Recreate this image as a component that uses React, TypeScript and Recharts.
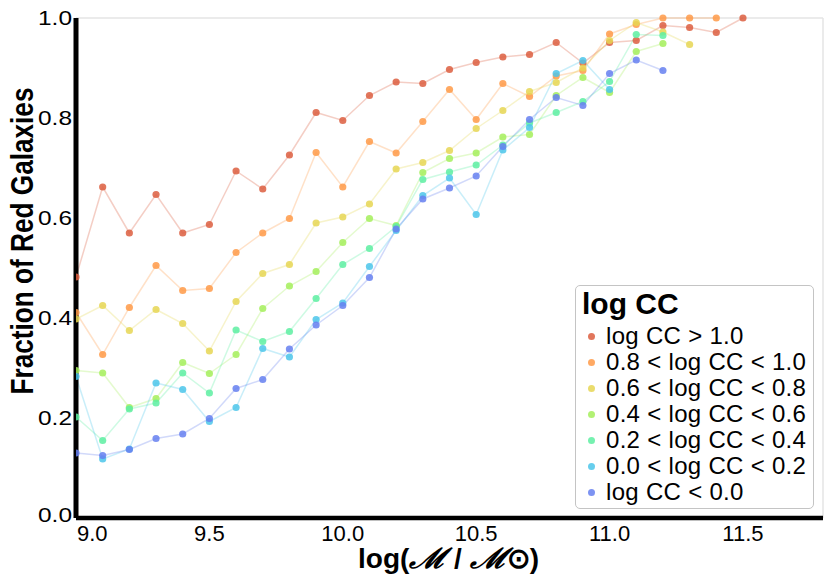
import React from 'react';
import { LineChart, Line, XAxis, YAxis, ReferenceLine, Legend } from 'recharts';

const massBins = [9.0, 9.1, 9.2, 9.3, 9.4, 9.5, 9.6, 9.7, 9.8, 9.9, 10.0, 10.1, 10.2, 10.3, 10.4, 10.5, 10.6, 10.7, 10.8, 10.9, 11.0, 11.1, 11.2, 11.3, 11.4, 11.5];

const ccAbove10 = [0.482, 0.662, 0.570, 0.647, 0.570, 0.587, 0.694, 0.658, 0.726, 0.811, 0.795, 0.845, 0.872, 0.869, 0.897, 0.911, 0.922, 0.927, 0.951, 0.910, 0.951, 0.955, 0.985, 0.981, 0.971, 1.0];
const cc08to10 = [0.411, 0.327, 0.421, 0.505, 0.455, 0.459, 0.531, 0.570, 0.599, 0.731, 0.662, 0.753, 0.730, 0.793, 0.857, 0.797, 0.869, 0.843, 0.884, 0.895, 0.968, 0.987, 1.0, 1.0, 1.0];
const cc06to08 = [0.398, 0.425, 0.375, 0.417, 0.389, 0.334, 0.433, 0.489, 0.507, 0.590, 0.602, 0.628, 0.698, 0.711, 0.735, 0.779, 0.815, 0.853, 0.871, 0.900, 0.955, 0.991, 0.972, 0.947];
const cc04to06 = [0.295, 0.290, 0.221, 0.239, 0.311, 0.289, 0.327, 0.419, 0.464, 0.493, 0.551, 0.599, 0.585, 0.691, 0.719, 0.730, 0.762, 0.767, 0.845, 0.881, 0.851, 0.933, 0.949];
const cc02to04 = [0.202, 0.155, 0.218, 0.230, 0.290, 0.250, 0.376, 0.353, 0.373, 0.439, 0.507, 0.539, 0.583, 0.677, 0.692, 0.706, 0.746, 0.790, 0.811, 0.833, 0.873, 0.967, 0.965];
const cc00to02 = [0.283, 0.118, 0.138, 0.270, 0.257, 0.193, 0.221, 0.339, 0.322, 0.397, 0.430, 0.503, 0.575, 0.645, 0.680, 0.607, 0.736, 0.781, 0.889, 0.915, 0.857];
const ccBelow00 = [0.130, 0.125, 0.137, 0.159, 0.168, 0.199, 0.259, 0.277, 0.338, 0.386, 0.425, 0.481, 0.578, 0.638, 0.660, 0.684, 0.743, 0.797, 0.841, 0.825, 0.889, 0.916, 0.895];

const seriesValues = [ccAbove10, cc08to10, cc06to08, cc04to06, cc02to04, cc00to02, ccBelow00];
const seriesLabels = [
  'log CC > 1.0',
  '0.8 < log CC < 1.0',
  '0.6 < log CC < 0.8',
  '0.4 < log CC < 0.6',
  '0.2 < log CC < 0.4',
  '0.0 < log CC < 0.2',
  'log CC < 0.0',
];
const seriesColors = ['#dc5e40', '#ff9a48', '#e6d654', '#a4ee5c', '#5eeea2', '#4cc6ea', '#6680f0'];

const xTicks = [9.0, 9.5, 10.0, 10.5, 11.0, 11.5];
const yTicks = [0.0, 0.2, 0.4, 0.6, 0.8, 1.0];

const data = massBins.map((x, i) => {
  const row: Record<string, number | null> = { x };
  seriesValues.forEach((arr, k) => {
    row['s' + k] = arr[i] ?? null;
  });
  return row;
});

const FONT = '"Liberation Sans", Arial, Helvetica, sans-serif';

const XTick = (props: any) => {
  const { x, y, payload } = props;
  const first = payload.value === xTicks[0];
  return (
    <text x={first ? x + 1 : x} y={y} dy="0.71em" textAnchor={first ? 'start' : 'middle'} fontSize={22} fill="#000" fontFamily={FONT}>
      {Number(payload.value).toFixed(1)}
    </text>
  );
};

const YTick = (props: any) => {
  const { x, y, payload } = props;
  const shift = payload.value === 0 ? -3 : 0;
  return (
    <text
      x={x}
      y={y + shift}
      dy="0.355em"
      textAnchor="end"
      fontSize={21}
      fill="#000"
      fontFamily={FONT}
      textLength={34}
      lengthAdjust="spacingAndGlyphs"
    >
      {Number(payload.value).toFixed(1)}
    </text>
  );
};

const XLabel = () => (
  <text x={358} y={568} textAnchor="start" fontSize={28} fontWeight="bold" fill="#000" fontFamily={FONT}>
    <tspan>log(</tspan>
    <tspan fontStyle="italic" textLength={37} lengthAdjust="spacingAndGlyphs">ℳ</tspan>
    <tspan> / </tspan>
    <tspan fontStyle="italic" textLength={37} lengthAdjust="spacingAndGlyphs">ℳ</tspan>
    <tspan>⊙)</tspan>
  </text>
);

const YLabel = () => (
  <text
    x={0}
    y={0}
    transform="translate(33,241) rotate(-90)"
    textAnchor="middle"
    fontSize={31}
    fontWeight="bold"
    fill="#000"
    fontFamily={FONT}
    textLength={307}
    lengthAdjust="spacingAndGlyphs"
  >
    Fraction of Red Galaxies
  </text>
);

const LegendBox = () => (
  <div
    style={{
      width: 239,
      height: 224,
      boxSizing: 'border-box',
      border: '1px solid #c4c4c4',
      borderRadius: 5,
      background: '#fff',
      paddingLeft: 6,
      fontFamily: FONT,
      color: '#000',
      textAlign: 'left',
    }}
  >
    <div style={{ fontSize: 30, fontWeight: 'bold', lineHeight: '34px', marginTop: 1, marginBottom: 2 }}>log CC</div>
    {seriesLabels.map((label, k) => (
      <div key={label} style={{ display: 'flex', alignItems: 'center', height: 26, fontSize: 24, lineHeight: '26px', whiteSpace: 'nowrap', letterSpacing: 0.3 }}>
        <span style={{ display: 'inline-block', width: 7, height: 7, borderRadius: '50%', background: seriesColors[k], opacity: 0.85, marginLeft: 6, marginRight: 11 }} />
        <span>{label}</span>
      </div>
    ))}
  </div>
);

export default function App() {
  return (
    <div style={{ position: 'absolute', left: 0, top: 0, width: 830, height: 586, background: '#fff', fontFamily: FONT }}>
      <LineChart width={830} height={586} data={data} margin={{ top: 18, right: 7, left: 0, bottom: 0 }}>
        <ReferenceLine y={1} stroke="#e4e4e4" strokeWidth={1.5} ifOverflow="visible" />
        <ReferenceLine x={11.8} stroke="#e4e4e4" strokeWidth={1.5} ifOverflow="visible" />
        <XAxis
          dataKey="x"
          type="number"
          domain={[9.0, 11.8]}
          ticks={xTicks}
          allowDataOverflow
          height={68}
          tickSize={0}
          tickMargin={7}
          tickLine={false}
          axisLine={{ stroke: '#000', strokeWidth: 4.5 }}
          tick={<XTick />}
          label={<XLabel />}
          interval={0}
        />
        <YAxis
          type="number"
          domain={[0, 1]}
          ticks={yTicks}
          width={76}
          tickSize={0}
          tickMargin={4}
          tickLine={false}
          axisLine={{ stroke: '#000', strokeWidth: 5 }}
          tick={<YTick />}
          label={<YLabel />}
          interval={0}
        />
        <Legend
          layout="horizontal"
          verticalAlign="middle"
          align="center"
          content={<LegendBox />}
          wrapperStyle={{ position: 'absolute', left: 575, top: 285, width: 239, height: 224 }}
        />
        {seriesValues.map((_, k) => (
          <Line
            key={k}
            type="linear"
            dataKey={'s' + k}
            name={seriesLabels[k]}
            stroke={seriesColors[k]}
            strokeOpacity={0.3}
            strokeWidth={1.5}
            dot={{ r: 3.6, fill: seriesColors[k], fillOpacity: 0.85, stroke: 'none', strokeWidth: 0 }}
            activeDot={false}
            isAnimationActive={false}
            connectNulls={false}
          />
        ))}
      </LineChart>
    </div>
  );
}
